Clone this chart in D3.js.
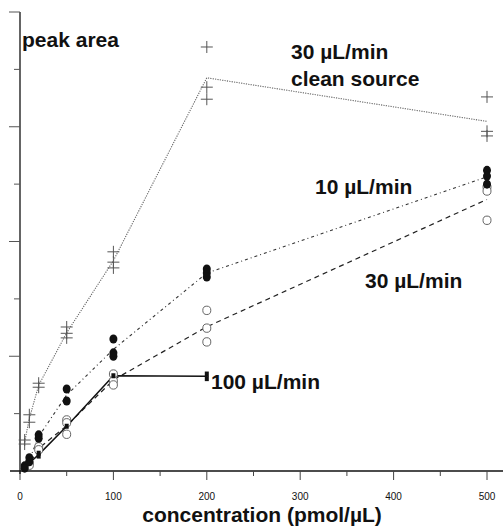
<!DOCTYPE html>
<html>
<head>
<meta charset="utf-8">
<script src="https://cdn.jsdelivr.net/npm/d3@7"></script>
<style>
    body { margin: 0; background: #fff; }
    text { font-family: "Liberation Sans", Arial, sans-serif; }
</style>
</head>
<body>
<svg></svg>
<script>
// concentration (pmol/uL) for each series
const concentrations = [5, 10, 20, 50, 100, 200, 500]
const concentrations100 = [5, 10, 20, 50, 100, 200]

// replicate peak areas (arbitrary units) per concentration
const cleanSource = [[0.54, 0.47], [0.98, 0.85], [1.53, 1.46], [2.51, 2.40, 2.32],
    [3.82, 3.64, 3.54], [7.39, 6.69, 6.48], [6.52, 5.92, 5.84]]
const flow10 = [[0.09, 0.05], [0.23, 0.16], [0.63, 0.57], [1.43, 1.22],
    [2.30, 2.06, 2.00], [3.52, 3.45, 3.38], [5.24, 5.14, 5.00]]
const flow30 = [[0.07], [0.14, 0.10], [0.42, 0.37], [0.89, 0.84, 0.64],
    [1.69, 1.57, 1.50], [2.80, 2.49, 2.25], [4.95, 4.88, 4.37]]
const flow100 = [[0.07], [0.14], [0.31, 0.26], [0.78], [1.66], [1.69, 1.61]]

const xTicks = [0, 100, 200, 300, 400, 500]

const svgWidth = 503
const svgHeight = 527

const svg = d3.select('svg')
    .attr('width', svgWidth)
    .attr('height', svgHeight)

const x = d3.scaleLinear().domain([0, 500]).range([20, 487])
const y = d3.scaleLinear().domain([0, 8]).range([471, 12])

// x axis
svg.append('line')
    .attr('x1', 10).attr('x2', svgWidth)
    .attr('y1', y(0)).attr('y2', y(0))
    .attr('stroke', '#111').attr('stroke-width', 1.3)

d3.range(0, 501, 50).forEach(t => {
    const major = t % 100 === 0
    svg.append('line')
        .attr('x1', x(t)).attr('x2', x(t))
        .attr('y1', y(0)).attr('y2', y(0) + (major ? 9 : 5))
        .attr('stroke', '#444').attr('stroke-width', 1)
})

svg.selectAll('.xlab')
    .data(xTicks)
    .join('text')
    .attr('x', d => x(d))
    .attr('y', 500)
    .attr('text-anchor', 'middle')
    .attr('font-size', '10px')
    .attr('fill', '#111')
    .text(d => d)

// y axis (no labels)
svg.append('line')
    .attr('x1', x(0)).attr('x2', x(0))
    .attr('y1', y(8)).attr('y2', y(0) + 3)
    .attr('stroke', '#111').attr('stroke-width', 1.3)

d3.range(1, 9).forEach(t => {
    svg.append('line')
        .attr('x1', x(0) - (t % 2 === 0 ? 11 : 6)).attr('x2', x(0))
        .attr('y1', y(t)).attr('y2', y(t))
        .attr('stroke', '#555').attr('stroke-width', 1)
})

// lines through the mean of each concentration
const line = d3.line()
    .x(d => x(d[0]))
    .y(d => y(d[1]))

function meanPoints(xs, values) {
    return xs.map((c, i) => [c, d3.mean(values[i])])
}

function flatPoints(xs, values) {
    const out = []
    xs.forEach((c, i) => values[i].forEach(v => out.push([c, v])))
    return out
}

svg.append('path')
    .attr('d', line(meanPoints(concentrations, cleanSource)))
    .attr('fill', 'none').attr('stroke', '#666')
    .attr('stroke-width', 1.1).attr('stroke-dasharray', '1.2,1.2')

svg.append('path')
    .attr('d', line(meanPoints(concentrations, flow10)))
    .attr('fill', 'none').attr('stroke', '#333')
    .attr('stroke-width', 1.1).attr('stroke-dasharray', '3,3,1,3')

svg.append('path')
    .attr('d', line(meanPoints(concentrations, flow30)))
    .attr('fill', 'none').attr('stroke', '#222')
    .attr('stroke-width', 1.2).attr('stroke-dasharray', '5,4')

svg.append('path')
    .attr('d', line(meanPoints(concentrations100, flow100)))
    .attr('fill', 'none').attr('stroke', '#111')
    .attr('stroke-width', 1.5)

// markers
const plusSize = 6
svg.selectAll('.plus')
    .data(flatPoints(concentrations, cleanSource))
    .join('path')
    .attr('d', d => `M${x(d[0]) - plusSize},${y(d[1])}h${plusSize * 2}M${x(d[0])},${y(d[1]) - plusSize}v${plusSize * 2}`)
    .attr('stroke', '#555').attr('stroke-width', 1).attr('fill', 'none')

svg.selectAll('.open')
    .data(flatPoints(concentrations, flow30))
    .join('ellipse')
    .attr('cx', d => x(d[0])).attr('cy', d => y(d[1]))
    .attr('rx', 4).attr('ry', 4.2)
    .attr('fill', 'white').attr('stroke', '#666').attr('stroke-width', 1)

svg.selectAll('.filled')
    .data(flatPoints(concentrations, flow10))
    .join('ellipse')
    .attr('cx', d => x(d[0])).attr('cy', d => y(d[1]))
    .attr('rx', 4).attr('ry', 4.5)
    .attr('fill', '#111')

svg.selectAll('.square')
    .data(flatPoints(concentrations100, flow100))
    .join('rect')
    .attr('x', d => x(d[0]) - 2).attr('y', d => y(d[1]) - 2.5)
    .attr('width', 4).attr('height', 5)
    .attr('fill', '#111')

// labels
const labels = [
    { text: 'peak area', x: 22, y: 47 },
    { text: '30 µL/min', x: 291, y: 59 },
    { text: 'clean source', x: 291, y: 86 },
    { text: '10 µL/min', x: 315, y: 194 },
    { text: '30 µL/min', x: 365, y: 288 },
    { text: '100 µL/min', x: 211, y: 389 }
]

labels.forEach(l => {
    svg.append('text')
        .attr('x', l.x).attr('y', l.y)
        .attr('font-size', '21px')
        .attr('font-weight', 'bold')
        .attr('fill', '#111')
        .text(l.text)
})

svg.append('text')
    .attr('x', 262).attr('y', 522)
    .attr('text-anchor', 'middle')
    .attr('font-size', '21px')
    .attr('font-weight', 'bold')
    .attr('fill', '#111')
    .text('concentration (pmol/µL)')
</script>
</body>
</html>
